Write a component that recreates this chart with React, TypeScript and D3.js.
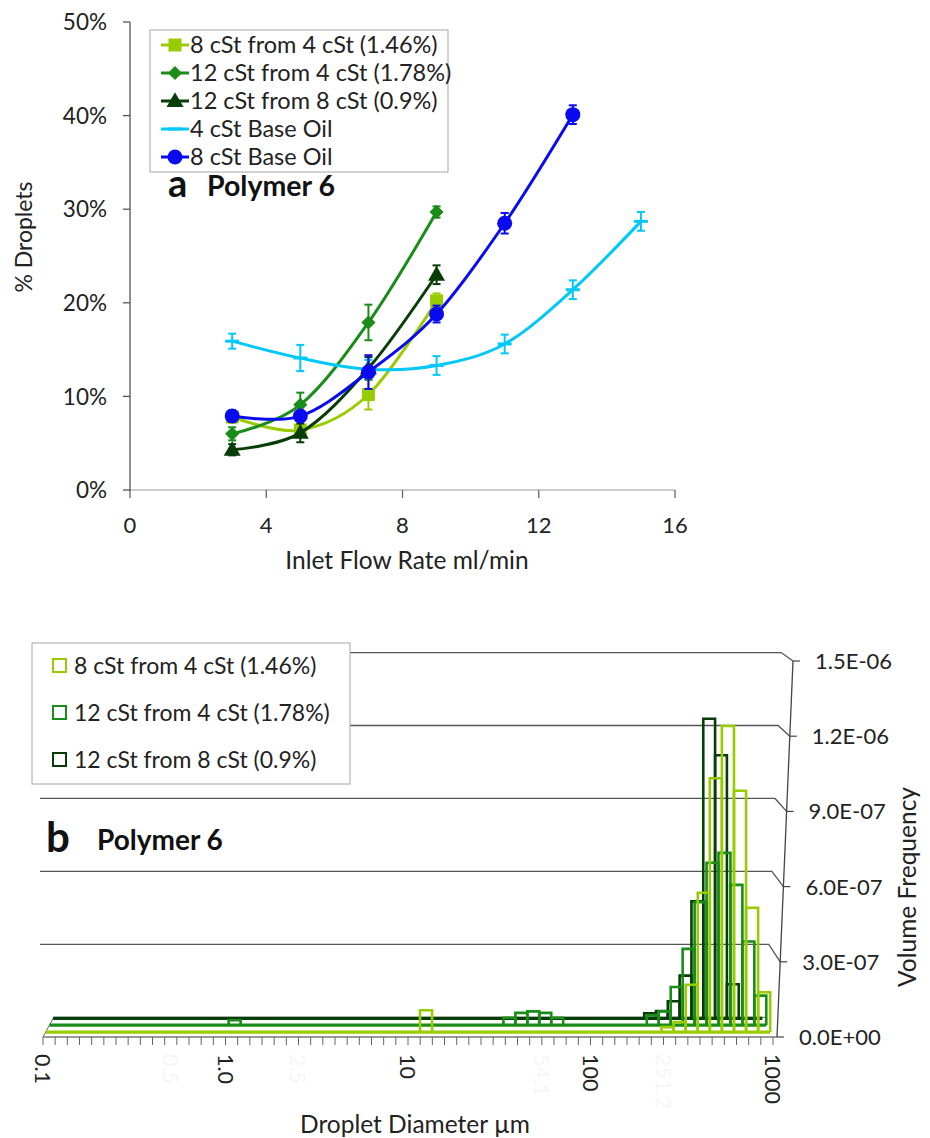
import React from 'react';
import * as d3 from 'd3';

// ---------- Top chart data (a) ----------
const flowRates = [3, 5, 7, 9, 11, 13, 15];
const yTicksTop = [0, 0.1, 0.2, 0.3, 0.4, 0.5];
const xTicksTop = [0, 4, 8, 12, 16];

const vals8from4 = [7.8, 6.4, 10.2, 20.2];
const err8from4 = [0.6, 0.5, 1.6, 0.8];
const vals12from4 = [6.0, 9.1, 17.9, 29.7];
const err12from4 = [0.7, 1.3, 1.9, 0.6];
const vals12from8 = [4.3, 6.1, 13.0, 23.0];
const err12from8 = [0.6, 1.0, 1.2, 1.0];
const valsBase4 = [15.9, 14.1, 12.9, 13.3, 15.6, 21.4, 28.7];
const errBase4 = [0.8, 1.4, 1.0, 1.0, 1.0, 1.0, 1.0];
const valsBase8 = [7.9, 7.9, 12.6, 18.8, 28.5, 40.1];
const errBase8 = [0.6, 0.5, 1.8, 0.9, 1.1, 1.0];

const topNames = [
  '8 cSt from 4 cSt (1.46%)',
  '12 cSt from 4 cSt (1.78%)',
  '12 cSt from 8 cSt (0.9%)',
  '4 cSt Base Oil',
  '8 cSt Base Oil',
];

// ---------- Bottom chart data (b) ----------
// bins: index k means diameter bin [10^(k/15), 10^((k+1)/15)] µm
const binRange = [-15, 45];
const lightBins = [16, 36, 37, 38, 39, 40, 41, 42, 43, 44];
const lightVals = [0.088, 0.02, 0.04, 0.19, 0.56, 1.02, 1.23, 0.97, 0.5, 0.16]; // x1e-6
const greenBins = [0, 23, 24, 25, 26, 27, 35, 36, 37, 38, 39, 40, 41, 42, 43, 44];
const greenVals = [0.02, 0.03, 0.05, 0.056, 0.05, 0.03, 0.04, 0.056, 0.155, 0.31, 0.5, 0.66, 0.7, 0.57, 0.34, 0.12];
const darkBins = [35, 36, 37, 38, 39, 40, 41, 42];
const darkVals = [0.02, 0.03, 0.07, 0.175, 0.48, 1.23, 1.08, 0.14];
const bottomNames = ['8 cSt from 4 cSt (1.46%)', '12 cSt from 4 cSt (1.78%)', '12 cSt from 8 cSt (0.9%)'];
const yTicksBottom = [0, 3e-7, 6e-7, 9e-7, 1.2e-6, 1.5e-6];
const yTickLabelsBottom = ['0.0E+00', '3.0E-07', '6.0E-07', '9.0E-07', '1.2E-06', '1.5E-06'];
const xLabelsBottom = [0.1, 1, 10, 100, 1000];
const xLabelTextBottom = ['0.1', '1.0', '10', '100', '1000'];
const xFaintLabels = [0.5, 2.5, 54.1, 251.2];

const FONT = 'Lato, "Open Sans", sans-serif';
const C_LIGHT = '#99cc00';
const C_GREEN = '#1a8c1a';
const C_DARK = '#083d08';
const C_CYAN = '#00c8f8';
const C_BLUE = '#0a0af0';

function TopChart() {
  const x = d3.scaleLinear().domain([0, 16]).range([130, 675]);
  const y = d3.scaleLinear().domain([0, 0.5]).range([490, 22]);
  const line = d3
    .line<[number, number]>()
    .x((d) => x(d[0]))
    .y((d) => y(d[1] / 100))
    .curve(d3.curveCardinal.tension(0));

  const series = [
    { name: topNames[0], vals: vals8from4, err: err8from4, color: C_LIGHT, marker: 'square' },
    { name: topNames[1], vals: vals12from4, err: err12from4, color: C_GREEN, marker: 'diamond' },
    { name: topNames[2], vals: vals12from8, err: err12from8, color: C_DARK, marker: 'triangle' },
    { name: topNames[3], vals: valsBase4, err: errBase4, color: C_CYAN, marker: 'dash' },
    { name: topNames[4], vals: valsBase8, err: errBase8, color: C_BLUE, marker: 'circle' },
  ];

  const marker = (type: string, cx: number, cy: number, color: string, key: string) => {
    if (type === 'square') return <rect key={key} x={cx - 6.5} y={cy - 6.5} width={13} height={13} fill={color} />;
    if (type === 'diamond')
      return (
        <path key={key} d={d3.symbol(d3.symbolSquare, 100)() || ''} transform={`translate(${cx},${cy}) rotate(45)`} fill={color} />
      );
    if (type === 'triangle')
      return <path key={key} d={d3.symbol(d3.symbolTriangle, 125)() || ''} transform={`translate(${cx},${cy + 1})`} fill={color} />;
    if (type === 'dash') return <rect key={key} x={cx - 7} y={cy - 1.5} width={14} height={3} fill={color} />;
    return <circle key={key} cx={cx} cy={cy} r={7.5} fill={color} />;
  };

  return (
    <g fontFamily={FONT}>
      {/* axes */}
      <line x1={130} x2={675} y1={490} y2={490} stroke="#bdbdbd" strokeWidth={1.5} />
      {xTicksTop.map((t) => (
        <g key={'xt' + t}>
          <line x1={x(t)} x2={x(t)} y1={490} y2={498} stroke="#666" strokeWidth={1.3} />
          <text x={x(t)} y={533} textAnchor="middle" fontSize={22} fill="#222">
            {t}
          </text>
        </g>
      ))}
      <line x1={130} x2={130} y1={22} y2={491} stroke="#555" strokeWidth={1.3} />
      {yTicksTop.map((t) => (
        <g key={'yt' + t}>
          <line x1={123} x2={130} y1={y(t)} y2={y(t)} stroke="#555" strokeWidth={1.3} />
          <text x={107} y={y(t)} dy="0.36em" textAnchor="end" fontSize={22.5} fill="#222">
            {Math.round(t * 100) + '%'}
          </text>
        </g>
      ))}
      <text transform="translate(32,237) rotate(-90)" textAnchor="middle" fontSize={23} fill="#222">
        % Droplets
      </text>
      <text x={407} y={569} textAnchor="middle" fontSize={24.5} fill="#222">
        Inlet Flow Rate ml/min
      </text>

      {/* series */}
      {series.map((s, si) => {
        const pts: [number, number][] = s.vals.map((v, i) => [flowRates[i], v]);
        return (
          <g key={'s' + si}>
            <path d={line(pts) || ''} fill="none" stroke={s.color} strokeWidth={3} />
            {pts.map((p, i) => {
              const cx = x(p[0]);
              const y1 = y((p[1] + s.err[i]) / 100);
              const y2 = y((p[1] - s.err[i]) / 100);
              return (
                <g key={'e' + i} stroke={s.color} strokeWidth={2}>
                  <line x1={cx} x2={cx} y1={y1} y2={y2} />
                  <line x1={cx - 4} x2={cx + 4} y1={y1} y2={y1} />
                  <line x1={cx - 4} x2={cx + 4} y1={y2} y2={y2} />
                </g>
              );
            })}
            {pts.map((p, i) => marker(s.marker, x(p[0]), y(p[1] / 100), s.color, 'm' + i))}
          </g>
        );
      })}

      {/* legend */}
      <rect x={150} y={30} width={298} height={142} fill="#fff" stroke="#a6a6a6" strokeWidth={1} />
      {series.map((s, i) => {
        const ly = 45 + i * 28;
        return (
          <g key={'lg' + i}>
            <line x1={161} x2={189} y1={ly} y2={ly} stroke={s.color} strokeWidth={3} />
            {marker(s.marker, 175, ly, s.color, 'lm' + i)}
            <text x={190} y={ly} dy="0.36em" fontSize={23.5} fill="#222">
              {s.name}
            </text>
          </g>
        );
      })}

      <text x={168} y={197} fontSize={38} fontWeight="bold" fill="#111">
        a
      </text>
      <text x={207} y={196} fontSize={28.5} fontWeight="bold" fill="#111">
        Polymer 6
      </text>
    </g>
  );
}

function BottomChart() {
  const VX = 400;
  const VY = 380;
  const PC = 0.03;
  const P = (px: number, py: number, t: number): [number, number] => {
    const f = 1 - PC * t;
    return [VX + (px - VX) * f, VY + (py - VY) * f];
  };
  const x = d3.scaleLog().domain([0.1, 1000]).range([43, 773]);
  const y = d3.scaleLinear().domain([0, 1.5e-6]).range([1037, 661]);
  const axX = d3.scaleLinear().domain([0, 1.5e-6]).range([777, 793]);
  const edge = (k: number) => x(Math.pow(10, k / 15));
  const base = 1037;

  const series = [
    { name: bottomNames[2], bins: darkBins, vals: darkVals, color: C_DARK, t: 0.95 },
    { name: bottomNames[1], bins: greenBins, vals: greenVals, color: C_GREEN, t: 0.6 },
    { name: bottomNames[0], bins: lightBins, vals: lightVals, color: C_LIGHT, t: 0.25 },
  ];
  const pathOf = (pts: [number, number][]) => d3.line()(pts) || '';

  const ticks = d3.range(binRange[0], binRange[1] + 1);

  return (
    <g fontFamily={FONT}>
      {/* back wall gridlines + side wall connectors */}
      {yTicksBottom.slice(1).map((v, i) => {
        const fy = y(v);
        const back = P(axX(v), fy, 1);
        return (
          <path
            key={'g' + i}
            d={pathOf([
              [40, back[1]],
              back,
              [axX(v), fy],
            ])}
            fill="none"
            stroke="#555"
            strokeWidth={1.3}
          />
        );
      })}
      {/* floor */}
      <path d={pathOf([[43, base], P(43, base, 1), P(777, base, 1)])} fill="none" stroke="#666" strokeWidth={1} />
      {/* series */}
      {series.map((s, si) => {
        const b0 = P(43, base, s.t);
        const b1 = P(773, base, s.t);
        return (
          <g key={'bs' + si} stroke={s.color} fill="none" strokeWidth={2.6} strokeLinejoin="miter">
            <path d={pathOf([b0, b1])} strokeWidth={3.2} />
            {s.bins.map((k, i) => {
              const a = edge(k);
              const b = edge(k + 1);
              const top = y(s.vals[i] * 1e-6);
              return <path key={'c' + i} d={pathOf([P(a, base, s.t), P(a, top, s.t), P(b, top, s.t), P(b, base, s.t)])} />;
            })}
          </g>
        );
      })}
      {/* front x axis */}
      <line x1={43} x2={777} y1={base} y2={base} stroke="#777" strokeWidth={1.3} />
      {ticks.map((k) => (
        <line key={'bt' + k} x1={edge(k)} x2={edge(k)} y1={base} y2={base + 8} stroke="#666" strokeWidth={1} />
      ))}
      {xLabelsBottom.map((v, i) => (
        <text key={'xl' + i} transform={`translate(${x(v)},1054) rotate(90)`} dy="0.36em" fontSize={21.5} fill="#222">
          {xLabelTextBottom[i]}
        </text>
      ))}
      {xFaintLabels.map((v, i) => (
        <text key={'xf' + i} transform={`translate(${x(v)},1054) rotate(90)`} dy="0.36em" fontSize={21.5} fill="#f6f6f6">
          {String(v)}
        </text>
      ))}
      <text x={415} y={1133} textAnchor="middle" fontSize={24.5} fill="#222">
        Droplet Diameter µm
      </text>
      {/* right value axis */}
      <line x1={axX(0)} y1={y(0)} x2={axX(1.5e-6)} y2={y(1.5e-6)} stroke="#444" strokeWidth={1.3} />
      {yTicksBottom.map((v, i) => (
        <g key={'ry' + i}>
          <line x1={axX(v)} x2={axX(v) + 7} y1={y(v)} y2={y(v)} stroke="#444" strokeWidth={1.2} />
          <text x={axX(v) + 22} y={y(v)} dy="0.36em" fontSize={22} fill="#222">
            {yTickLabelsBottom[i]}
          </text>
        </g>
      ))}
      <text transform="translate(916,887) rotate(-90)" textAnchor="middle" fontSize={24.5} fill="#222">
        Volume Frequency
      </text>
      {/* legend */}
      <rect x={32} y={643} width={318} height={141} fill="#fff" stroke="#a6a6a6" strokeWidth={1} />
      {[C_LIGHT, C_GREEN, C_DARK].map((c, i) => {
        const ly = 666 + i * 47;
        return (
          <g key={'bl' + i}>
            <rect x={53} y={ly - 7} width={13} height={13} fill="#fff" stroke={c} strokeWidth={2} />
            <text x={74} y={ly} dy="0.36em" fontSize={23} fill="#222">
              {bottomNames[i]}
            </text>
          </g>
        );
      })}
      <text x={46} y={852} fontSize={42} fontWeight="bold" fill="#111">
        b
      </text>
      <text x={97} y={850} fontSize={28} fontWeight="bold" fill="#111">
        Polymer 6
      </text>
    </g>
  );
}

export default function App() {
  return (
    <svg
      width={930}
      height={1138}
      viewBox="0 0 930 1138"
      style={{ position: 'absolute', left: 0, top: 0, display: 'block', background: '#fff' }}
    >
      <rect width={930} height={1138} fill="#fff" />
      <TopChart />
      <BottomChart />
    </svg>
  );
}
